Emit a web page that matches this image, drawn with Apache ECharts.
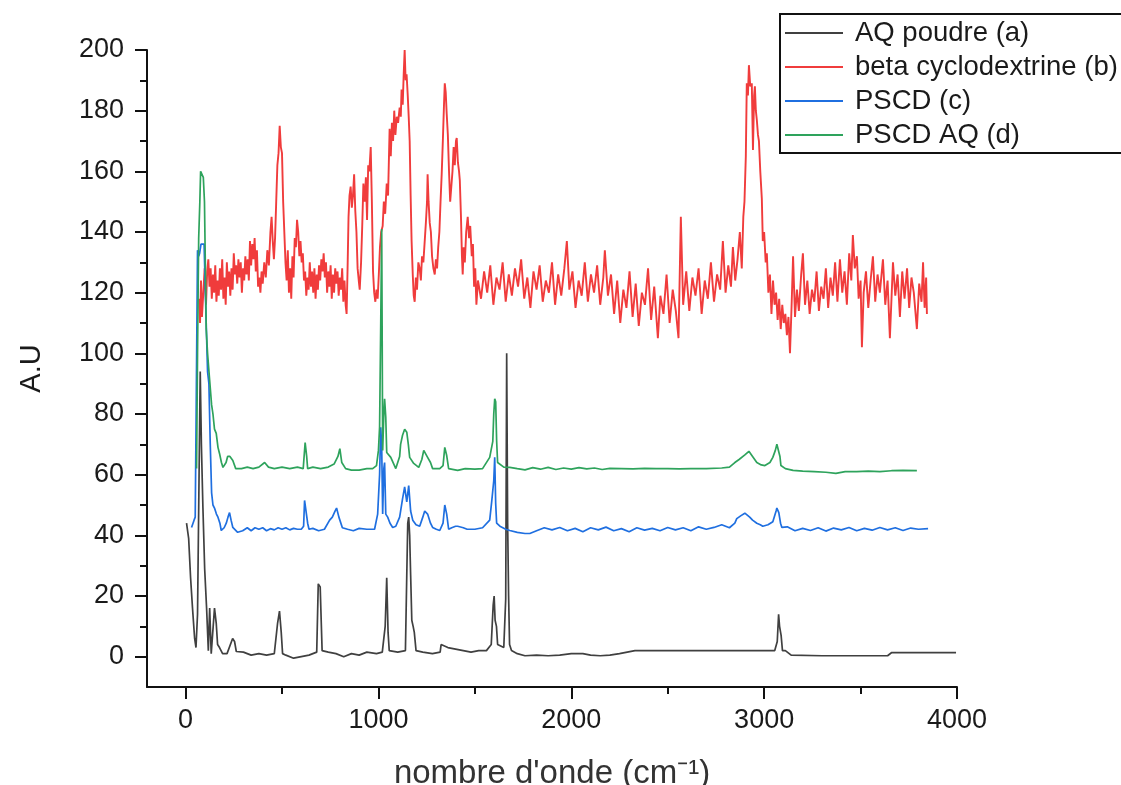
<!DOCTYPE html>
<html>
<head>
<meta charset="utf-8">
<script src="https://cdn.jsdelivr.net/npm/echarts@6/dist/echarts.min.js"></script>
<style>html,body{margin:0;padding:0;background:#fff;}#chart{width:1121px;height:785px;}</style>
</head>
<body>
<div id="chart"></div>
<script>
// ---- Data (wavenumber cm-1, intensity A.U) ----
const seriesNames = ['AQ poudre (a)', 'beta cyclodextrine (b)', 'PSCD (c)', 'PSCD AQ (d)'];
const xMajorTicks = [0, 1000, 2000, 3000, 4000];
const xMinorTicks = [500, 1500, 2500, 3500];
const yMajorTicks = [0, 20, 40, 60, 80, 100, 120, 140, 160, 180, 200];
const yMinorTicks = [10, 30, 50, 70, 90, 110, 130, 150, 170, 190];

const aqPoudre = [[5,44],[16,39],[26,26],[36,16],[47,6],[54,3],[62,14],[70,60],[76,94],[82,70],[90,49],[99,29],[109,16],[118,2],[125,16],[133,1],[150,16],[159,11],[166,4],[176,3],[192,1],[215,1],[244,6],[254,5],[263,1.7],[300,1.5],[340,0.5],[380,1],[420,0.5],[460,1],[477,11],[487,15],[496,8],[503,1],[520,0.5],[560,-0.5],[600,0],[640,0.5],[680,1.5],[688,24],[698,23],[708,2],[740,1.5],[780,1],[820,0],[860,1],[900,0.5],[940,1.5],[990,1],[1020,1.5],[1035,10],[1043,26],[1050,8],[1056,2],[1100,1.5],[1140,2],[1147,27],[1152,44],[1157,46],[1162,40],[1167,27],[1173,12],[1180,10],[1186,8],[1195,2],[1230,1.5],[1280,1],[1320,1.5],[1325,4],[1360,3],[1400,2.5],[1440,2],[1480,1.5],[1520,2],[1560,2],[1585,4],[1595,17],[1600,20],[1605,12],[1612,10],[1618,4],[1650,3],[1660,19],[1665,100],[1670,44],[1675,20],[1680,4],[1690,2],[1720,1],[1760,0.3],[1820,0.5],[1880,0.3],[1940,0.5],[2000,1],[2060,1],[2100,0.5],[2150,0.3],[2200,0.5],[2250,1],[2330,2],[2500,2],[2700,2],[2900,2],[3000,2],[3055,2],[3068,5],[3075,14],[3080,10],[3088,7],[3095,2],[3110,2],[3140,0.5],[3300,0.3],[3500,0.3],[3640,0.3],[3660,1.3],[3800,1.3],[3995,1.3]];

const betaCD = [[70,118],[75,110],[80,124],[85,112],[92,120],[99,128],[106,116],[112,127],[118,131],[124,122],[130,128],[136,118],[142,126],[148,120],[154,129],[160,117],[166,124],[172,119],[178,128],[184,121],[190,131],[196,118],[202,125],[208,116],[214,130],[220,122],[226,127],[232,119],[238,128],[244,121],[250,133],[256,126],[262,129],[268,123],[274,131],[280,125],[286,130],[292,120],[298,128],[304,124],[310,132],[316,126],[322,131],[328,124],[334,137],[340,129],[346,136],[352,131],[358,138],[364,127],[370,134],[376,122],[382,125],[388,120],[394,127],[400,123],[408,130],[416,125],[424,134],[432,129],[440,140],[446,145],[452,137],[458,131],[464,138],[470,150],[476,162],[482,166],[488,175],[494,168],[500,166],[506,150],[512,140],[518,130],[524,124],[530,134],[536,120],[542,128],[548,118],[554,132],[560,125],[566,138],[572,135],[578,144],[584,140],[590,132],[596,137],[602,130],[608,133],[614,124],[620,127],[626,119],[632,125],[638,121],[644,130],[650,122],[656,127],[662,120],[668,128],[674,118],[680,126],[686,121],[692,129],[698,124],[704,131],[710,127],[716,133],[722,125],[728,130],[734,120],[740,127],[746,122],[752,129],[758,118],[764,126],[770,120],[776,128],[782,123],[788,127],[794,119],[800,125],[806,121],[812,128],[818,117],[824,124],[830,116],[835,113],[840,128],[845,145],[850,152],[856,155],[862,148],[868,152],[874,159],[880,147],[886,140],[892,128],[898,124],[903,121],[910,130],[916,142],[922,156],[929,150],[935,158],[941,144],[947,162],[953,160],[960,168],[966,150],[972,127],[978,120],[984,117],[990,121],[996,118],[1002,126],[1008,135],[1014,140],[1022,142],[1028,150],[1035,146],[1043,156],[1050,152],[1058,174],[1064,165],[1070,176],[1076,170],[1082,180],[1088,172],[1095,178],[1102,176],[1110,181],[1116,178],[1120,187],[1126,182],[1131,192],[1136,200],[1141,190],[1146,192],[1152,185],[1157,178],[1162,170],[1167,152],[1172,137],[1178,126],[1183,119],[1188,117],[1194,125],[1200,121],[1207,130],[1214,128],[1220,124],[1226,132],[1233,130],[1240,137],[1246,143],[1252,150],[1255,159],[1260,150],[1266,143],[1272,140],[1278,132],[1285,128],[1292,126],[1298,131],[1304,128],[1310,135],[1316,140],[1322,150],[1328,159],[1334,170],[1340,182],[1344,189],[1349,186],[1354,179],[1360,172],[1366,160],[1372,150],[1378,155],[1384,160],[1390,168],[1396,162],[1402,170],[1406,171],[1412,163],[1418,160],[1422,157],[1428,145],[1433,132],[1437,126],[1442,135],[1448,130],[1455,140],[1463,145],[1470,138],[1476,142],[1484,132],[1490,136],[1496,122],[1502,128],[1508,116],[1516,124],[1532,118],[1548,127],[1564,120],[1580,129],[1596,116],[1612,125],[1628,121],[1644,130],[1660,117],[1676,126],[1692,119],[1708,128],[1724,122],[1740,131],[1756,118],[1772,125],[1788,115],[1804,127],[1820,121],[1836,129],[1852,117],[1868,124],[1884,120],[1900,130],[1916,116],[1932,126],[1948,119],[1964,128],[1977,137],[1990,121],[2006,127],[2022,115],[2038,124],[2054,119],[2070,130],[2086,117],[2102,126],[2118,120],[2134,129],[2150,116],[2166,125],[2174,134],[2190,119],[2206,126],[2222,113],[2238,124],[2254,110],[2270,121],[2286,115],[2302,127],[2318,112],[2334,123],[2350,109],[2366,120],[2382,116],[2398,128],[2414,111],[2430,122],[2449,105],[2462,119],[2478,113],[2494,126],[2510,110],[2526,121],[2542,114],[2556,105],[2568,145],[2580,116],[2596,127],[2612,114],[2628,125],[2644,119],[2660,128],[2676,113],[2692,124],[2708,118],[2724,130],[2740,117],[2756,126],[2772,121],[2786,137],[2800,120],[2814,129],[2828,122],[2838,135],[2850,124],[2862,131],[2874,140],[2884,128],[2892,145],[2898,150],[2905,165],[2910,189],[2916,185],[2921,195],[2928,188],[2936,189],[2942,167],[2948,185],[2952,188],[2957,180],[2962,177],[2968,172],[2973,170],[2980,160],[2988,151],[2993,137],[3000,140],[3008,130],[3014,133],[3022,120],[3030,126],[3038,113],[3046,124],[3054,116],[3062,120],[3070,111],[3078,118],[3086,108],[3094,116],[3102,110],[3110,113],[3118,106],[3126,112],[3134,100],[3142,115],[3150,132],[3160,112],[3170,121],[3180,114],[3192,126],[3201,133],[3212,116],[3224,124],[3236,113],[3248,121],[3260,117],[3272,127],[3284,114],[3296,122],[3308,118],[3320,128],[3332,115],[3344,125],[3356,119],[3368,130],[3380,117],[3393,131],[3405,120],[3417,127],[3429,116],[3441,133],[3452,124],[3460,139],[3470,128],[3481,132],[3490,118],[3500,124],[3507,102],[3516,120],[3528,127],[3540,115],[3552,124],[3564,132],[3576,117],[3588,126],[3600,120],[3616,131],[3628,116],[3640,124],[3652,105],[3668,130],[3680,119],[3692,126],[3704,112],[3716,127],[3728,118],[3741,128],[3752,115],[3764,125],[3776,120],[3792,108],[3804,123],[3816,117],[3824,130],[3832,115],[3840,125],[3844,113]];

const pscd = [[31,42.6],[38,42.6],[44,45],[50,46],[55,81],[62,134],[68,132],[73,133],[80,136],[88,136],[96,136],[107,110],[114,94],[121,90],[128,70],[135,54],[142,50],[150,49],[160,47],[168,46],[178,44],[185,41.6],[200,42.5],[211,44],[220,46],[228,47.5],[236,45],[245,42.6],[270,41],[296,41.5],[320,42.5],[340,41.5],[360,42.5],[380,42],[400,42.5],[420,41.5],[440,42.2],[460,41.8],[480,42.5],[500,42],[520,42.5],[540,41.8],[560,42.3],[580,42],[600,42],[612,43],[617,51.5],[626,51],[633,44],[640,42],[660,42.3],[690,41.5],[720,42],[747,45],[761,46],[775,48],[783,49],[795,46],[813,42.5],[840,42],[870,41.5],[900,42.3],[940,42],[980,42],[996,47],[1006,60],[1012,75.6],[1017,69],[1022,47],[1028,62],[1032,64],[1038,47],[1048,46],[1060,44],[1074,42.6],[1090,43],[1110,46],[1115,48],[1125,52],[1136,56],[1147,51],[1157,56.4],[1167,48],[1178,45],[1195,43.5],[1214,43],[1230,46],[1240,48],[1255,47],[1270,44],[1281,42.6],[1300,42],[1318,41.6],[1335,44],[1344,50],[1354,47],[1364,42],[1380,42.5],[1400,43],[1411,43],[1440,42.5],[1460,42],[1500,42],[1540,42.5],[1577,45],[1588,51.5],[1598,58],[1603,65.7],[1608,50.5],[1613,44],[1630,43],[1660,42],[1681,41.6],[1720,41],[1760,40.6],[1785,40.6],[1820,41.5],[1860,42.5],[1900,41.8],[1940,42.6],[1980,41.5],[2020,42.3],[2060,41.2],[2100,42.5],[2140,41.8],[2180,42.7],[2220,41.5],[2260,42.2],[2300,41.2],[2340,42.5],[2380,41.7],[2420,42.3],[2460,41.5],[2500,42.6],[2540,41.8],[2580,42.5],[2620,41.5],[2660,42.8],[2700,42],[2740,42.6],[2780,43.5],[2820,42.5],[2848,44],[2858,45.5],[2880,46.5],[2900,47.3],[2910,47.2],[2925,46],[2940,45],[2962,44],[2980,43.5],[2993,43],[3020,43.5],[3045,44.5],[3055,45],[3062,48],[3066,49],[3072,48.5],[3076,47.5],[3085,44],[3092,42.6],[3120,42.8],[3160,41.5],[3200,42.3],[3240,41.6],[3280,42.5],[3320,41.4],[3360,42.4],[3400,41.8],[3440,42.6],[3480,41.5],[3520,42.3],[3560,41.7],[3600,42.6],[3640,41.8],[3680,42.5],[3720,41.6],[3760,42.4],[3800,42],[3850,42.2]];

const pscdAq = [[57,62],[62,100],[68,138],[74,150],[78,160],[86,160],[92,158],[98,150],[102,150],[107,108],[114,100],[125,91],[135,83],[142,80],[150,75],[159,73.6],[168,69],[176,67],[186,64],[194,62.4],[210,64],[218,66],[230,66],[245,64.7],[260,62],[290,62],[320,62.5],[350,62],[380,62.5],[410,64],[430,62.5],[460,62],[500,62.5],[540,62],[580,62.5],[610,62],[620,70.6],[628,66],[633,62],[660,62.5],[700,62],[740,62.5],[770,63.5],[790,66],[800,68.6],[810,64],[830,62],[860,61.5],[900,61.5],[940,62],[970,62],[990,63],[1000,68],[1006,75.6],[1012,110],[1017,141],[1022,68],[1028,80],[1032,85],[1038,79],[1043,67.3],[1064,65.7],[1090,62],[1110,66],[1115,70],[1125,73],[1136,75],[1147,74],[1155,70],[1162,65.7],[1183,63.7],[1209,62.4],[1225,65],[1235,68],[1255,65.7],[1270,64],[1281,62],[1318,62],[1335,63],[1344,69],[1354,66.3],[1364,62],[1411,61.4],[1450,62],[1500,61.8],[1540,62],[1577,65.7],[1593,71],[1598,80],[1603,85],[1608,84],[1613,71],[1618,64],[1650,62.5],[1681,62.4],[1720,62],[1760,61.6],[1800,62.3],[1840,61.8],[1880,62.4],[1920,61.7],[1960,62.2],[2000,61.8],[2040,62.3],[2080,61.9],[2120,62.2],[2160,61.7],[2200,62.1],[2260,62],[2320,61.9],[2380,62.1],[2440,62],[2500,62],[2560,61.9],[2620,62],[2700,62],[2780,62.2],[2820,62.5],[2848,64],[2870,65],[2900,66.5],[2921,67.7],[2940,66],[2962,64],[2985,63.2],[3004,63],[3030,64],[3045,65.7],[3058,68],[3066,70],[3076,70],[3082,66],[3087,63],[3110,62],[3150,61.4],[3200,61.2],[3260,61],[3320,60.8],[3372,60.4],[3420,61],[3480,61],[3540,61.2],[3600,61],[3660,61.3],[3720,61.4],[3792,61.3]];

const seriesData = [aqPoudre, betaCD, pscd, pscdAq];
const seriesColors = ['#404040', '#f03c3c', '#1f6fe0', '#2ea35c'];
const seriesWidths = [1.7, 1.9, 1.7, 1.7];

// ---- Chart ----
const FONT = '"Liberation Sans", Arial, sans-serif';
const chart = echarts.init(document.getElementById('chart'), null, {renderer: 'canvas'});
const axisColor = '#111';
const plain = v => String(v);

const option = {
  animation: false,
  backgroundColor: '#ffffff',
  textStyle: {fontFamily: FONT},
  grid: {left: 147, right: 164, top: 50, bottom: 98, containLabel: false, outerBoundsMode: 'none'},
  legend: {
    data: seriesNames,
    orient: 'vertical',
    left: 780,
    top: 14,
    icon: 'rect',
    itemWidth: 58,
    itemHeight: 2,
    itemGap: 6,
    padding: [5, 8, 4, 5],
    borderColor: '#111',
    borderWidth: 2,
    backgroundColor: '#fff',
    textStyle: {fontSize: 27.5, color: '#1a1a1a', fontFamily: FONT, padding: [0, 0, 0, 7]}
  },
  xAxis: [
    {
      type: 'value', min: -200, max: 4000,
      position: 'bottom',
      name: "nombre d'onde (cm⁻¹)",
      nameLocation: 'middle',
      nameGap: 70,
      nameTextStyle: {fontSize: 33, color: '#333', fontFamily: FONT},
      axisLine: {show: true, onZero: false, lineStyle: {color: axisColor, width: 2}},
      axisTick: {show: true, customValues: xMajorTicks, length: 12, lineStyle: {color: axisColor, width: 2}},
      axisLabel: {show: true, customValues: xMajorTicks, formatter: plain, fontSize: 27, color: '#1a1a1a', margin: 20, fontFamily: FONT},
      splitLine: {show: false}
    },
    {
      type: 'value', min: -200, max: 4000,
      position: 'bottom',
      axisLine: {show: false, onZero: false},
      axisTick: {show: true, customValues: xMinorTicks, length: 7, lineStyle: {color: axisColor, width: 2}},
      axisLabel: {show: false},
      splitLine: {show: false}
    }
  ],
  yAxis: [
    {
      type: 'value', min: -10, max: 200,
      position: 'left',
      name: 'A.U',
      nameLocation: 'middle',
      nameGap: 101,
      nameRotate: 90,
      nameTextStyle: {fontSize: 29, color: '#1a1a1a', fontFamily: FONT},
      axisLine: {show: true, onZero: false, lineStyle: {color: axisColor, width: 2}},
      axisTick: {show: true, customValues: yMajorTicks, length: 12, lineStyle: {color: axisColor, width: 2}},
      axisLabel: {show: true, customValues: yMajorTicks, formatter: plain, fontSize: 27, color: '#1a1a1a', margin: 23, fontFamily: FONT},
      splitLine: {show: false}
    },
    {
      type: 'value', min: -10, max: 200,
      position: 'left',
      axisLine: {show: false, onZero: false},
      axisTick: {show: true, customValues: yMinorTicks, length: 7, lineStyle: {color: axisColor, width: 2}},
      axisLabel: {show: false},
      splitLine: {show: false}
    }
  ],
  series: seriesNames.map((name, i) => ({
    name: name,
    type: 'line',
    xAxisIndex: 0,
    yAxisIndex: 0,
    data: seriesData[i],
    symbol: 'none',
    showSymbol: false,
    smooth: false,
    color: seriesColors[i],
    lineStyle: {color: seriesColors[i], width: seriesWidths[i]},
    emphasis: {disabled: true}
  }))
};
chart.setOption(option);
</script>
</body>
</html>
